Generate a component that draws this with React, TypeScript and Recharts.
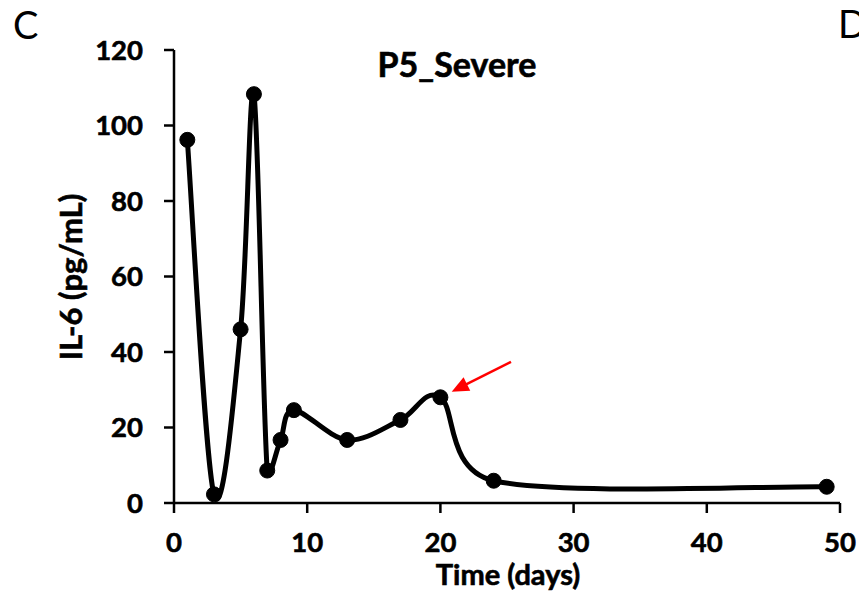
import { LineChart, Line, XAxis, YAxis, ReferenceLine } from "recharts";

// IL-6 time course for patient P5 (severe)
const days = [1, 3, 5, 6, 7, 8, 9, 13, 17, 20, 24, 49];
const il6 = [96.2, 2.3, 46, 108.3, 8.6, 16.7, 24.6, 16.7, 22, 28, 5.9, 4.3];
const xTicks = [0, 10, 20, 30, 40, 50];
const yTicks = [0, 20, 40, 60, 80, 100, 120];
// red arrow pointing at the day-20 sample (data units)
const arrowFrom = { x: 25.3, y: 37.4 };
const arrowTo = { x: 20.85, y: 29.5 };

const data = days.map((d, i) => ({ day: d, value: il6[i] }));

const FONT = "Lato, 'Open Sans', sans-serif";

// Excel-like smoothed line: bezier arms of 1/6, capped at half the segment
function excelSmooth(context: any) {
  let pts: [number, number][] = [];
  const dist = (a: [number, number], b: [number, number]) => Math.hypot(b[0] - a[0], b[1] - a[1]);
  return {
    areaStart() {},
    areaEnd() {},
    lineStart() {
      pts = [];
    },
    point(x: number, y: number) {
      pts.push([+x, +y]);
    },
    lineEnd() {
      const n = pts.length;
      if (!n) return;
      context.moveTo(pts[0][0], pts[0][1]);
      for (let i = 0; i < n - 1; i++) {
        const p0 = pts[i - 1] || pts[i];
        const p1 = pts[i];
        const p2 = pts[i + 1];
        const p3 = pts[i + 2] || p2;
        const d12 = dist(p1, p2);
        const d02 = dist(p0, p2);
        const d13 = dist(p1, p3);
        const f0 = d02 / 6 < d12 / 2 ? 1 / 6 : d12 / (2 * d02);
        const f3 = d13 / 6 < d12 / 2 ? 1 / 6 : d12 / (2 * d13);
        context.bezierCurveTo(
          p1[0] + (p2[0] - p0[0]) * f0,
          p1[1] + (p2[1] - p0[1]) * f0,
          p2[0] - (p3[0] - p1[0]) * f3,
          p2[1] - (p3[1] - p1[1]) * f3,
          p2[0],
          p2[1]
        );
      }
    },
  };
}

function Arrow(props: any) {
  const { x1, y1, x2, y2 } = props;
  const dx = x2 - x1;
  const dy = y2 - y1;
  const len = Math.sqrt(dx * dx + dy * dy) || 1;
  const ux = dx / len;
  const uy = dy / len;
  const head = 17;
  const half = 7.5;
  const bx = x2 - ux * head;
  const by = y2 - uy * head;
  return (
    <g>
      <line x1={x1} y1={y1} x2={bx + ux * 2} y2={by + uy * 2} stroke="#ff0000" strokeWidth={2.5} />
      <polygon
        points={`${x2},${y2} ${bx - uy * half},${by + ux * half} ${bx + uy * half},${by - ux * half}`}
        fill="#ff0000"
      />
    </g>
  );
}

const heavy = { stroke: "#000", strokeWidth: 0.6, paintOrder: "stroke" as const };
const tickStyle = { fontFamily: FONT, fontWeight: 700, fontSize: 27.5, fill: "#000", ...heavy };

export default function App() {
  return (
    <div style={{ position: "absolute", left: 0, top: 0, width: 859, height: 595, background: "#fff" }}>
      <LineChart width={859} height={595} data={data} margin={{ top: 50, right: 19, bottom: 0, left: 0 }}>
        <XAxis
          dataKey="day"
          type="number"
          domain={[0, 50]}
          ticks={xTicks}
          height={92}
          tickSize={10}
          tickMargin={19}
          stroke="#000"
          axisLine={{ stroke: "#000", strokeWidth: 2.5 }}
          tickLine={{ stroke: "#000", strokeWidth: 2.5 }}
          tick={tickStyle}
          interval={0}
        />
        <YAxis
          type="number"
          domain={[0, 120]}
          ticks={yTicks}
          width={174}
          tickSize={10}
          tickMargin={21}
          stroke="#000"
          axisLine={{ stroke: "#000", strokeWidth: 2.5 }}
          tickLine={{ stroke: "#000", strokeWidth: 2.5 }}
          tick={tickStyle}
          interval={0}
        />
        <Line
          dataKey="value"
          type={excelSmooth as any}
          stroke="#000"
          strokeWidth={5}
          dot={{ r: 7.5, fill: "#000", stroke: "#000", strokeWidth: 1 }}
          isAnimationActive={false}
        />
        <ReferenceLine segment={[arrowFrom, arrowTo]} shape={Arrow} ifOverflow="visible" />
      </LineChart>
      <svg
        width={859}
        height={595}
        style={{ position: "absolute", left: 0, top: 0, pointerEvents: "none" }}
      >
        <text x={13} y={39} fontFamily={FONT} fontSize={38} fill="#000">C</text>
        <text x={838} y={38} fontFamily={FONT} fontSize={38} fill="#000">D</text>
        <text x={457} y={77} textAnchor="middle" fontFamily={FONT} fontWeight={700} fontSize={34} fill="#000" {...heavy}>
          P5_Severe
        </text>
        <text x={508} y={585} textAnchor="middle" fontFamily={FONT} fontWeight={700} fontSize={29} fill="#000" {...heavy}>
          Time (days)
        </text>
        <text
          transform="translate(82,277) rotate(-90)"
          textAnchor="middle"
          fontFamily={FONT}
          fontWeight={700}
          fontSize={31}
          fill="#000"
          {...heavy}
        >
          IL-6 (pg/mL)
        </text>
      </svg>
    </div>
  );
}
